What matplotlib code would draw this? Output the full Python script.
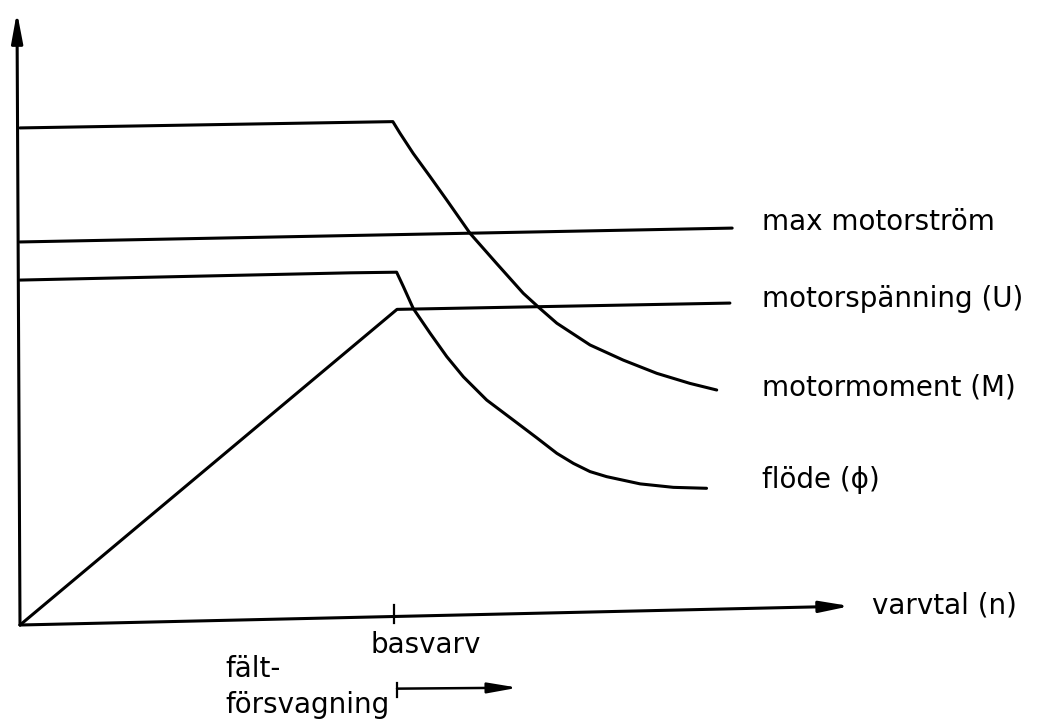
import matplotlib
matplotlib.use("Agg")
import matplotlib.pyplot as plt
from matplotlib.patches import FancyArrowPatch

# ---- data (speed in % of base speed, quantity in % of rated voltage) ----
base_speed = 100.0

torque_x = [0.0, 98.9, 100.8, 104.3, 108.8, 113.2, 119.4, 126.4, 133.5, 137.9,
            142.4, 151.2, 160.0, 168.9, 177.7, 184.8]
torque_y = [157.8, 159.8, 156.1, 149.7, 142.3, 134.9, 124.3, 114.8, 105.3, 100.5,
            95.8, 88.9, 84.1, 79.9, 76.7, 74.6]

current_x = [0.0, 188.9]
current_y = [121.6, 126.0]

flux_x = [0.0, 87.5, 99.9, 101.7, 104.3, 108.8, 113.2, 117.6, 123.8, 130.8, 137.1,
          142.4, 146.8, 151.2, 155.6, 164.5, 173.3, 182.1]
flux_y = [109.5, 111.8, 112.0, 107.4, 100.5, 92.6, 85.2, 78.8, 71.4, 65.1, 59.4,
          54.5, 51.3, 48.7, 47.1, 44.8, 43.7, 43.4]

voltage_x = [0.0, 100.0, 188.3]
voltage_y = [0.0, 100.2, 102.2]

labels = ["max motorström", "motorspänning (U)", "motormoment (M)", "flöde (ϕ)"]
label_y = [125.4, 101.0, 73.0, 43.5]

x_axis_label = "varvtal (n)"
base_label = "basvarv"
fw_label_1 = "fält-"
fw_label_2 = "försvagning"

# ---- figure ----
fig = plt.figure(figsize=(10.51, 7.26), dpi=100)
ax = fig.add_axes([0, 0, 1, 1])
ax.set_xlim(-5.305, 273.47)
ax.set_ylim(-32.06, 198.41)
ax.axis("off")

lw = 2.2
col = "black"

for xs, ys in [(torque_x, torque_y), (current_x, current_y),
               (flux_x, flux_y), (voltage_x, voltage_y)]:
    ax.plot(xs, ys, color=col, lw=lw, solid_joinstyle="round", solid_capstyle="round")

# axes arrows
arrow_kw = dict(arrowstyle="-|>,head_length=1.5,head_width=0.28", color=col,
                lw=lw, mutation_scale=12, shrinkA=0, shrinkB=0)
ax.add_patch(FancyArrowPatch((0.0, 0.0), (-0.8, 194.6), **arrow_kw))
ax.add_patch(FancyArrowPatch((0.0, 0.0), (220.2, 6.0), **arrow_kw))

# base speed tick
ax.plot([base_speed - 0.8, base_speed - 0.8], [6.5, 0.5], color=col, lw=1.6)

# field weakening arrow
ax.plot([base_speed, base_speed], [-18.4, -22.9], color=col, lw=1.6)
ax.add_patch(FancyArrowPatch((base_speed, -20.2), (132.1, -19.9),
                             arrowstyle="-|>,head_length=1.5,head_width=0.26",
                             color=col, lw=1.8, mutation_scale=12,
                             shrinkA=0, shrinkB=0))

fs = 20
for lab, yy in zip(labels, label_y):
    ax.text(196.8, yy, lab, fontsize=fs, va="baseline", ha="left", color=col)

ax.text(226.0, 3.8, x_axis_label, fontsize=fs, va="baseline", ha="left", color=col)
ax.text(107.7, -8.9, base_label, fontsize=fs, va="baseline", ha="center", color=col)
ax.text(54.4, -16.5, fw_label_1, fontsize=fs, va="baseline", ha="left", color=col)
ax.text(54.4, -27.9, fw_label_2, fontsize=fs, va="baseline", ha="left", color=col)

fig.savefig("out.png", dpi=100, facecolor="white")
